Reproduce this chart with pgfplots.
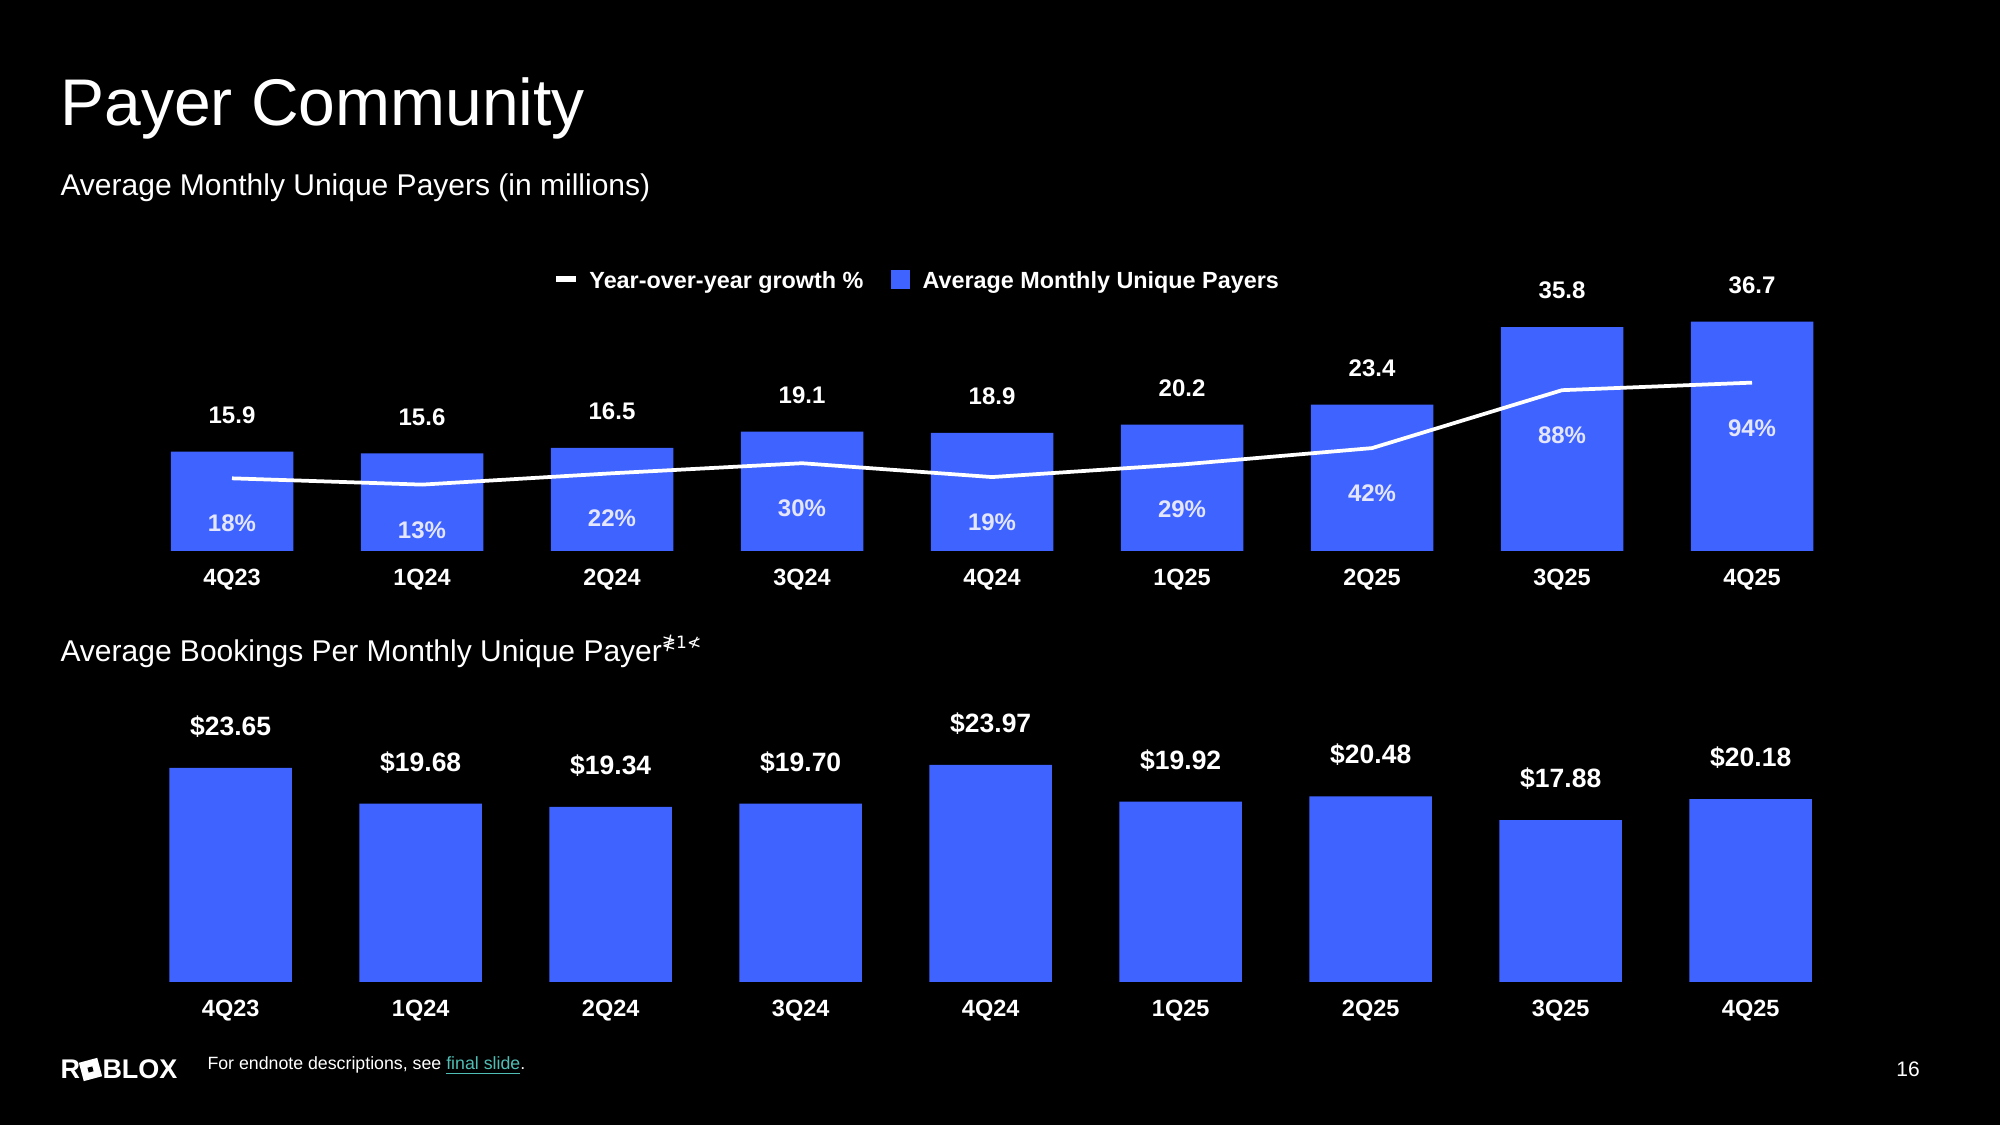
\documentclass[border=0pt]{standalone}
\usepackage{fontspec}
\setmainfont{Liberation Sans}
\newfontfamily\symfont{DejaVu Sans}
\usepackage{pgfplots}
\pgfplotsset{compat=1.18}
\definecolor{barblue}{RGB}{63,99,255}
\definecolor{pctcol}{RGB}{228,230,255}
\definecolor{linkcol}{RGB}{80,190,180}
\pgfplotsset{
  chartbase/.style={
    scale only axis, width=760pt,
    xmin=-1, xmax=9,
    axis line style={draw=none}, major tick length=0pt,
    ytick=\empty, xtick={0,...,8},
    xticklabels={4Q23,1Q24,2Q24,3Q24,4Q24,1Q25,2Q25,3Q25,4Q25},
    xticklabel style={text=white, font=\bfseries\fontsize{9.4}{11}\selectfont,
      anchor=center, yshift=-10.4pt, text height=6.7pt, text depth=0pt, inner sep=0pt},
    clip=false,
  },
  hiddenbase/.style={
    scale only axis, width=760pt,
    xmin=-1, xmax=9,
    axis line style={draw=none}, major tick length=0pt,
    ytick=\empty, xtick=\empty, clip=false,
  },
}
\begin{document}
\begin{tikzpicture}[x=0.4pt,y=0.4pt]
\fill[black] (0,0) rectangle (2000,1125);
% titles
\node[anchor=base west, inner sep=0pt, text=white, font=\fontsize{26.4}{30}\selectfont] at (60,999) {Payer Community};
\node[anchor=base west, inner sep=0pt, text=white, font=\fontsize{12}{14}\selectfont] at (60,929) {Average Monthly Unique Payers (in millions)};
\node[anchor=base west, inner sep=0pt, text=white, font=\fontsize{12}{14}\selectfont] at (60,463) {Average Bookings Per Monthly Unique Payer\raisebox{0.85ex}{\symfont\fontsize{6.8}{7}\selectfont ≹1≮}};

% top chart: bars
\begin{axis}[chartbase, at={(16.8pt,229.6pt)}, anchor=south west, height=125pt, ymin=0, ymax=50,
  legend style={at={(0.2705,0.864)}, anchor=west, draw=none, fill=none, text=white,
    font=\bfseries\fontsize{9.35}{11}\selectfont, inner sep=0pt,
    nodes={inner sep=0pt, anchor=base west},
    /tikz/every odd column/.append style={column sep=5.2pt},
    /tikz/every even column/.append style={column sep=10.8pt}},
  legend columns=2, legend cell align=left]
\addlegendimage{legend image code/.code={\fill[white] (0pt,2.6pt) rectangle (7.6pt,4.6pt);}}
\addlegendentry{Year-over-year growth \%}
\addplot[ybar, bar shift=0pt, bar width=49pt, fill=barblue, draw=none,
  legend image code/.code={\fill[barblue] (0pt,-0.2pt) rectangle (7.6pt,7.4pt);},
  nodes near coords={\pgfmathprintnumber[fixed,fixed zerofill,precision=1,assume math mode=true]{\pgfplotspointmeta}},
  every node near coord/.append style={text=white, font=\bfseries\fontsize{9.6}{11}\selectfont,
    anchor=center, yshift=14.8pt, text height=6.9pt, text depth=0pt, inner sep=0pt}]
coordinates {(0,15.9) (1,15.6) (2,16.5) (3,19.1) (4,18.9) (5,20.2) (6,23.4) (7,35.8) (8,36.7)};
\addlegendentry{Average Monthly Unique Payers}
\end{axis}

% top chart: yoy growth line
\begin{axis}[hiddenbase, at={(16.8pt,229.6pt)}, anchor=south west, height=125pt, ymin=-39.7, ymax=208.5]
\addplot[white, line width=1.5pt, mark=none,
  nodes near coords={\pgfmathprintnumber[assume math mode=true]{\pgfplotspointmeta}\%},
  every node near coord/.append style={text=pctcol, font=\bfseries\fontsize{9.6}{11}\selectfont,
    anchor=center, yshift=-17.9pt, text height=6.9pt, text depth=0pt, inner sep=0pt}]
coordinates {(0,18) (1,13) (2,22) (3,30) (4,19) (5,29) (6,42) (7,88) (8,94)};
\end{axis}

% bottom chart
\begin{axis}[chartbase, at={(16.28pt,57.2pt)}, anchor=south west, height=108.7pt, ymin=0, ymax=30]
\addplot[ybar, bar shift=0pt, bar width=49pt, fill=barblue, draw=none,
  nodes near coords={\$\pgfmathprintnumber[fixed,fixed zerofill,precision=2,assume math mode=true]{\pgfplotspointmeta}},
  every node near coord/.append style={text=white, font=\bfseries\fontsize{10.6}{12}\selectfont,
    anchor=center, yshift=16.8pt, text height=7.6pt, text depth=0pt, inner sep=0pt}]
coordinates {(0,23.65) (1,19.68) (2,19.34) (3,19.70) (4,23.97) (5,19.92) (6,20.48) (7,17.88) (8,20.18)};
\end{axis}

% footer
\node[anchor=base west, inner sep=0pt, text=white, font=\bfseries\fontsize{10.8}{12}\selectfont] at (60,46) {R};
\fill[white, rotate around={15:(90.5,55.5)}] (81,46) rectangle (100,65);
\fill[black, rotate around={15:(90.5,55.5)}] (88,53) rectangle (93,58);
\node[anchor=base west, inner sep=0pt, text=white, font=\bfseries\fontsize{10.8}{12}\selectfont] at (102,46) {BLOX};
\node[anchor=base west, inner sep=0pt, text=white, font=\fontsize{7.1}{8.5}\selectfont] at (207,55) {For endnote descriptions, see {\color{linkcol}\underline{final slide}}.};
\node[anchor=base, inner sep=0pt, text=white, font=\fontsize{8.4}{10}\selectfont] at (1908,48.5) {16};

\pgfresetboundingbox
\path[use as bounding box] (0,0) rectangle (2000,1125);
\end{tikzpicture}
\end{document}
